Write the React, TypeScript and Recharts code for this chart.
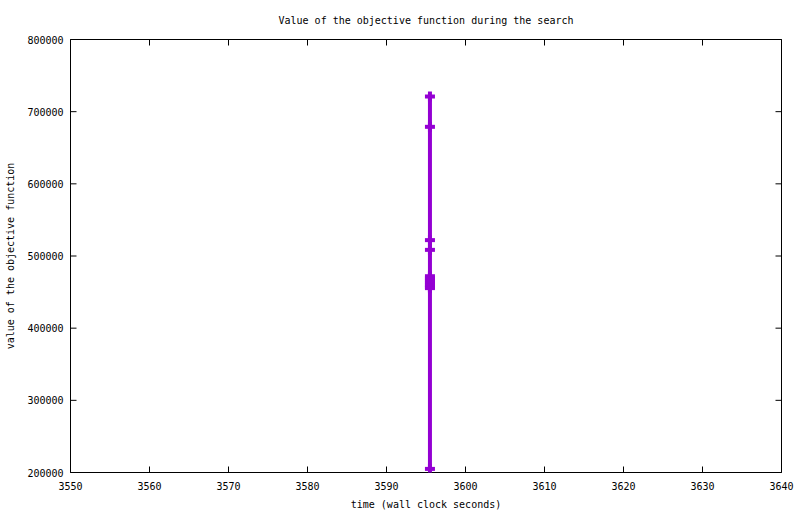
import React from 'react';
import { LineChart, Line, XAxis, YAxis } from 'recharts';

const times = [3595.5, 3595.5, 3595.5, 3595.5, 3595.5, 3595.5, 3595.5, 3595.5, 3595.5, 3595.5, 3595.5, 3595.5, 3595.5];
const objectiveValues = [721000, 679000, 522000, 508500, 472000, 469500, 467000, 464500, 462000, 459500, 457000, 455500, 205000];
const xTicks = [3550, 3560, 3570, 3580, 3590, 3600, 3610, 3620, 3630, 3640];
const yTicks = [200000, 300000, 400000, 500000, 600000, 700000, 800000];

const chartTitle = 'Value of the objective function during the search';
const xLabel = 'time (wall clock seconds)';
const yLabel = 'value of the objective function';

const data = times.map((t, i) => ({ t, v: objectiveValues[i] }));

const FONT = 'DejaVu Sans Mono, Liberation Mono, monospace';
const COLOR = '#9400D3';
const TICK = 6;

const BottomTick = (props: any) => {
  const { x, y, payload } = props;
  return (
    <g>
      <line x1={x} x2={x} y1={y} y2={y - TICK} stroke="#000" strokeWidth={1} />
      <text x={x} y={y + 17} textAnchor="middle" fontFamily={FONT} fontSize={10} fill="#000">
        {payload.value}
      </text>
    </g>
  );
};

const TopTick = (props: any) => {
  const { x, y } = props;
  return <line x1={x} x2={x} y1={y} y2={y + TICK} stroke="#000" strokeWidth={1} />;
};

const LeftTick = (props: any) => {
  const { x, y, payload } = props;
  return (
    <g>
      <line x1={x} x2={x + TICK} y1={y} y2={y} stroke="#000" strokeWidth={1} />
      <text x={x - 7} y={y + 4} textAnchor="end" fontFamily={FONT} fontSize={10} fill="#000">
        {payload.value}
      </text>
    </g>
  );
};

const RightTick = (props: any) => {
  const { x, y } = props;
  return <line x1={x} x2={x - TICK} y1={y} y2={y} stroke="#000" strokeWidth={1} />;
};

const CrossDot = (props: any) => {
  const { cx, cy, index } = props;
  if (cx == null || cy == null) return <g key={`d-${index}`} />;
  return (
    <g key={`d-${index}`}>
      <rect x={cx - 5} y={cy - 2} width={10} height={4} fill={COLOR} />
      <rect x={cx - 2} y={cy - 5} width={4} height={10} fill={COLOR} />
    </g>
  );
};

const YLabelContent = (props: any) => {
  const vb = props.viewBox || {};
  const cy = (vb.y ?? 0) + (vb.height ?? 0) / 2;
  return (
    <text
      x={14}
      y={cy}
      transform={`rotate(-90, 14, ${cy})`}
      textAnchor="middle"
      fontFamily={FONT}
      fontSize={10}
      fill="#000"
    >
      {yLabel}
    </text>
  );
};

export default function App() {
  return (
    <div style={{ position: 'absolute', left: 0, top: 0, width: 800, height: 514, background: '#fff' }}>
      <LineChart
        width={800}
        height={514}
        data={data}
        margin={{ top: 38.5, right: 17.5, bottom: 0, left: 0 }}
      >
        <XAxis
          dataKey="t"
          type="number"
          domain={[3550, 3640]}
          ticks={xTicks}
          allowDataOverflow
          height={41.5}
          tickSize={0}
          tickMargin={0}
          tickLine={false}
          axisLine={{ stroke: '#000', strokeWidth: 1 }}
          tick={<BottomTick />}
          interval={0}
          label={{ value: xLabel, position: 'insideBottom', offset: 6, fontFamily: FONT, fontSize: 10, fill: '#000' }}
        />
        <XAxis
          xAxisId="top"
          dataKey="t"
          orientation="top"
          type="number"
          domain={[3550, 3640]}
          ticks={xTicks}
          allowDataOverflow
          height={1}
          tickSize={0}
          tickMargin={0}
          tickLine={false}
          axisLine={{ stroke: '#000', strokeWidth: 1 }}
          tick={<TopTick />}
          interval={0}
          label={{ value: chartTitle, position: 'top', offset: 15, fontFamily: FONT, fontSize: 10, fill: '#000' }}
        />
        <YAxis
          type="number"
          domain={[200000, 800000]}
          ticks={yTicks}
          allowDataOverflow
          width={70.5}
          tickSize={0}
          tickMargin={0}
          tickLine={false}
          axisLine={{ stroke: '#000', strokeWidth: 1 }}
          tick={<LeftTick />}
          interval={0}
          label={{ content: <YLabelContent /> }}
        />
        <YAxis
          yAxisId="right"
          orientation="right"
          type="number"
          domain={[200000, 800000]}
          ticks={yTicks}
          allowDataOverflow
          width={1}
          tickSize={0}
          tickMargin={0}
          tickLine={false}
          axisLine={{ stroke: '#000', strokeWidth: 1 }}
          tick={<RightTick />}
          interval={0}
        />
        <Line
          xAxisId="top"
          yAxisId="right"
          dataKey="v"
          type="linear"
          stroke="none"
          strokeWidth={0}
          dot={false}
          activeDot={false}
          legendType="none"
          isAnimationActive={false}
        />
        <Line
          dataKey="v"
          type="linear"
          stroke={COLOR}
          strokeWidth={4}
          dot={CrossDot}
          activeDot={false}
          isAnimationActive={false}
        />
      </LineChart>
    </div>
  );
}
